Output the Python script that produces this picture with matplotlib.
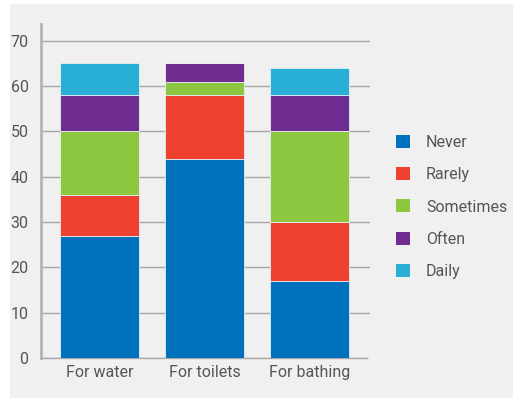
import matplotlib
matplotlib.use("Agg")
import matplotlib.pyplot as plt
from matplotlib.patches import Rectangle
import numpy as np

categories = ["For water", "For toilets", "For bathing"]
series_names = ["Never", "Rarely", "Sometimes", "Often", "Daily"]
never = [27, 44, 17]
rarely = [9, 14, 13]
sometimes = [14, 3, 20]
often = [8, 4, 8]
daily = [7, 0, 6]
colors = ["#0071bc", "#ef4130", "#8dc63f", "#6f2c91", "#29afd6"]
yticks = [0, 10, 20, 30, 40, 50, 60, 70]

plt.rcParams['font.family'] = ['Roboto', 'DejaVu Sans']
txt = "#555555"
fs = 11.5

fig = plt.figure(figsize=(5.14, 4.0), dpi=100)
fig.patch.set_facecolor("white")
bg = Rectangle((10/514, 2/400), 503/514, 394/400, transform=fig.transFigure,
               facecolor="#f0f0f0", edgecolor="none", zorder=-10)
fig.patches.append(bg)

ax = fig.add_axes([41/514, 42/400, 329/514, 334/400])
ax.set_zorder(1)
ax.set_facecolor("none")
x = np.arange(len(categories))
bottom = np.zeros(len(categories))
handles = []
for name, vals, c in zip(series_names, [never, rarely, sometimes, often, daily], colors):
    vals = np.array(vals, dtype=float)
    b = ax.bar(x, vals, bottom=bottom, width=0.75, color=c, edgecolor="#e6eef5",
               linewidth=0.6, label=name, zorder=3)
    handles.append(b)
    bottom += vals

ax.set_xlim(-0.557, 2.576)
ax.set_ylim(0, 73.7)
ax.set_yticks(yticks)
ax.yaxis.grid(True, color="#a8a8a8", linewidth=1.0, zorder=0)
ax.set_axisbelow(True)
for s in ["top", "right"]:
    ax.spines[s].set_visible(False)
ax.spines["left"].set_color("#b4b4b4")
ax.spines["left"].set_linewidth(2)
ax.spines["bottom"].set_color("#a8a8a8")
ax.spines["bottom"].set_linewidth(1.0)
ax.spines["bottom"].set_bounds(-0.557, 2.55)
ax.set_xticks(x)
ax.set_xticklabels(categories)
ax.tick_params(axis="both", length=0, labelsize=fs, colors=txt)
ax.tick_params(axis="y", pad=9)
ax.tick_params(axis="x", pad=5)

leg = fig.legend(handles=handles, labels=series_names, loc="center left",
                 bbox_to_anchor=(396/514, (400-207)/400), frameon=False,
                 handlelength=0.875, handleheight=0.875, labelspacing=1.08,
                 handletextpad=1.0, fontsize=fs, borderaxespad=0, borderpad=0)
for t in leg.get_texts():
    t.set_color(txt)
for h in leg.legend_handles:
    h.set_edgecolor("none")

fig.savefig("out.png", dpi=100, facecolor=fig.get_facecolor())
